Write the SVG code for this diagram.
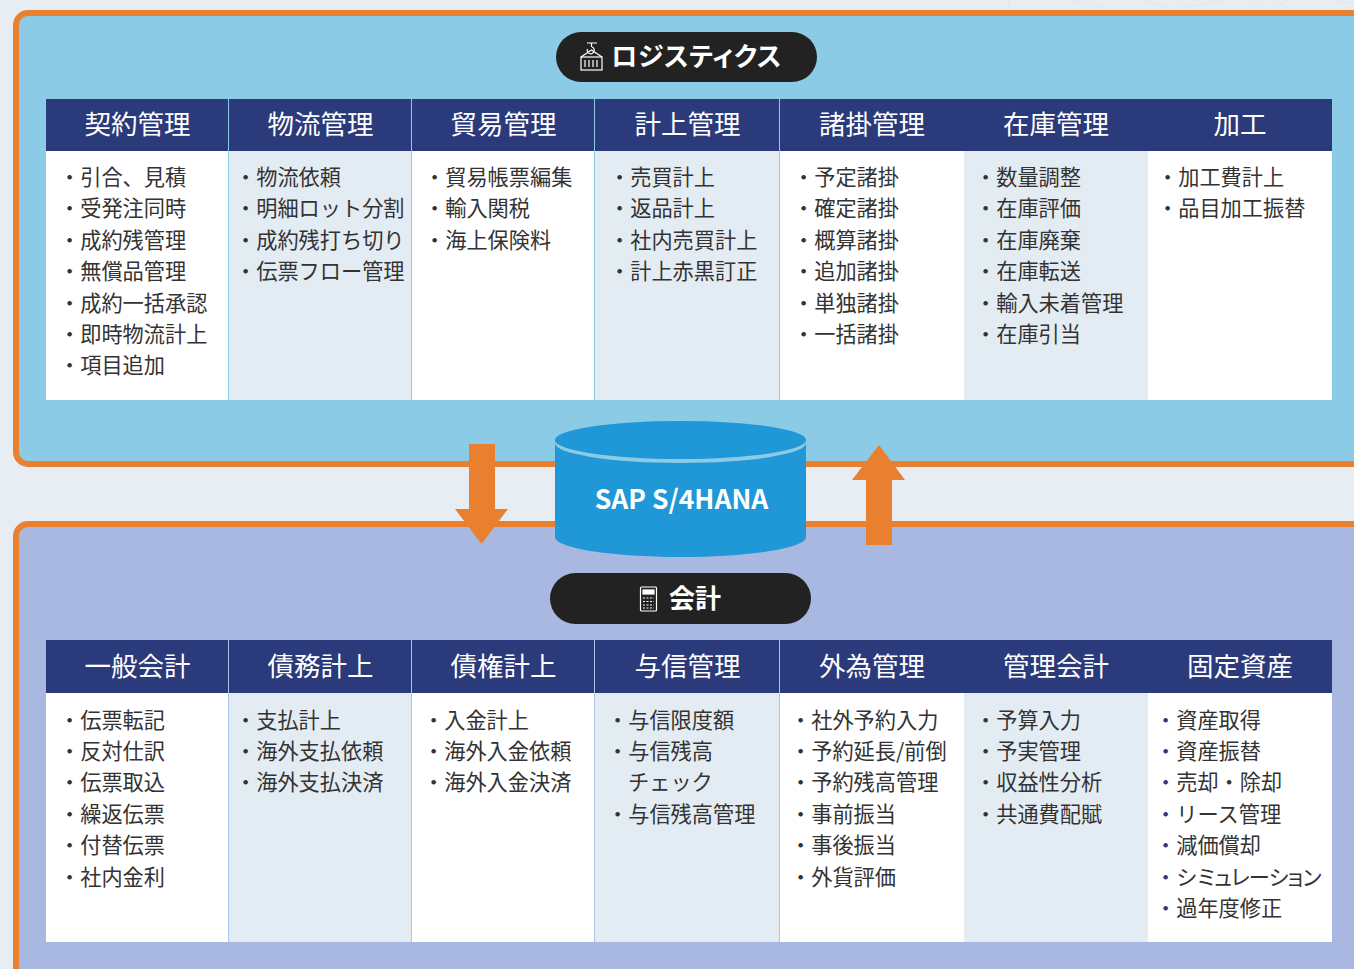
<svg xmlns="http://www.w3.org/2000/svg" width="1354" height="969" viewBox="0 0 1354 969">
<style>
text{font-family:"Noto Sans CJK JP","Noto Sans",sans-serif}
.panel{stroke:#e8802f;stroke-width:6}
.hd{fill:#2b3a7a}
.ht{fill:#fff;font-size:26.500px;text-anchor:middle}
.it{fill:#333;font-size:21.200px}
.b{fill:#2b3a7a}
.tint{fill:#e4ecf3}
.wh{fill:#fff}
.pill{fill:#222}
.tt{fill:#fff;font-size:26px;font-weight:700}
.palt{font-feature-settings:"palt"}
.tight{letter-spacing:-.7px}
.wide{letter-spacing:.6px}
.ic{fill:none;stroke:#fff;stroke-width:1.200}
.arr{fill:#e8802f}
</style>
<rect width="1354" height="969" fill="#e8edf4"/>
<g fill="none" stroke="#dfe6ef" stroke-width="1"><path d="M1009 0V10M1072 0L1112 10M1146 0L1172 10L1222 0M1208 0L1215 10M1252 10L1260 0M1276 0L1290 10M1335 0L1354 4"/></g>
<rect id="panel-logistics" class="panel" x="16" y="13" width="1400" height="451" rx="12" fill="#8ccbe6"/>
<rect id="panel-accounting" class="panel" x="16" y="524" width="1400" height="500" rx="12" fill="#a8b8e0"/>

<g id="connectors">
<path id="arrow-down" class="arr" d="M469 444H495V509H508L481.500 544L455 509H469Z"/>
<path id="arrow-up" class="arr" d="M866 545H892V480H905L879 445L852 480H866Z"/>
</g>

<g id="db">
<path d="M555 440V537C555 548 611 557 680.500 557S806 548 806 537V440Z" fill="#2097d6"/>
<ellipse cx="680.500" cy="443" rx="125.500" ry="20" fill="#8ccbe6"/>
<ellipse cx="680.500" cy="440" rx="125.500" ry="19" fill="#2097d6"/>
<text x="681.500" y="509" fill="#fff" font-size="26.500" font-weight="700" text-anchor="middle">SAP S/4HANA</text>
</g>

<g id="title-logistics">
<rect class="pill" x="556" y="32" width="261" height="50" rx="25"/>
<g class="ic"><rect x="581" y="57" width="21" height="13"/><path d="M581 57L591.500 50L602 57M587 43H597M591.500 43V47M587.500 49A3.500 3.500 0 1 0 592 47M585 60V67M589 60V67M593 60V67M597 60V67"/></g>
<text class="tt palt wide" x="611" y="66">ロジスティクス</text>
</g>
<g id="title-accounting">
<rect class="pill" x="550" y="573" width="261" height="51" rx="25.500"/>
<g class="ic"><rect x="640.500" y="587" width="16" height="24" rx="1"/><rect x="643" y="590" width="11" height="4" fill="#fff"/><path d="M643 598H654M643 601.500H654M643 605H654M643 608H654" stroke-dasharray="2 1.500"/></g>
<text class="tt" x="669" y="608">会計</text>
</g>

<g id="col-u1"><rect class="wh" x="46" y="151" width="183" height="249"/><rect class="hd" x="46" y="99" width="183" height="52"/><text class="ht" x="137.500" y="134">契約管理</text>
<text class="it"><tspan x="59" y="184.500">・引合、見積</tspan><tspan x="59" y="215.500">・受発注同時</tspan><tspan x="59" y="247.500">・成約残管理</tspan><tspan x="59" y="278.500">・無償品管理</tspan><tspan x="59" y="310.500">・成約一括承認</tspan><tspan x="59" y="341.500">・即時物流計上</tspan><tspan x="59" y="372.500">・項目追加</tspan></text></g>
<g id="col-u2"><rect class="tint" x="229" y="151" width="183" height="249"/><rect class="hd" x="229" y="99" width="183" height="52"/><text class="ht" x="320.500" y="134">物流管理</text>
<text class="it"><tspan x="235" y="184.500">・物流依頼</tspan><tspan x="235" y="215.500">・明細ロット分割</tspan><tspan x="235" y="247.500">・成約残打ち切り</tspan><tspan x="235" y="278.500">・伝票フロー管理</tspan></text></g>
<g id="col-u3"><rect class="wh" x="412" y="151" width="183" height="249"/><rect class="hd" x="412" y="99" width="183" height="52"/><text class="ht" x="503.500" y="134">貿易管理</text>
<text class="it"><tspan x="424" y="184.500">・貿易帳票編集</tspan><tspan x="424" y="215.500">・輸入関税</tspan><tspan x="424" y="247.500">・海上保険料</tspan></text></g>
<g id="col-u4"><rect class="tint" x="595" y="151" width="185" height="249"/><rect class="hd" x="595" y="99" width="185" height="52"/><text class="ht" x="687.500" y="134">計上管理</text>
<text class="it"><tspan x="609" y="184.500">・売買計上</tspan><tspan x="609" y="215.500">・返品計上</tspan><tspan x="609" y="247.500">・社内売買計上</tspan><tspan x="609" y="278.500">・計上赤黒訂正</tspan></text></g>
<g id="col-u5"><rect class="wh" x="780" y="151" width="184" height="249"/><rect class="hd" x="780" y="99" width="184" height="52"/><text class="ht" x="872" y="134">諸掛管理</text>
<text class="it"><tspan x="793" y="184.500">・予定諸掛</tspan><tspan x="793" y="215.500">・確定諸掛</tspan><tspan x="793" y="247.500">・概算諸掛</tspan><tspan x="793" y="278.500">・追加諸掛</tspan><tspan x="793" y="310.500">・単独諸掛</tspan><tspan x="793" y="341.500">・一括諸掛</tspan></text></g>
<g id="col-u6"><rect class="tint" x="964" y="151" width="184" height="249"/><rect class="hd" x="964" y="99" width="184" height="52"/><text class="ht" x="1056" y="134">在庫管理</text>
<text class="it"><tspan x="975" y="184.500">・数量調整</tspan><tspan x="975" y="215.500">・在庫評価</tspan><tspan x="975" y="247.500">・在庫廃棄</tspan><tspan x="975" y="278.500">・在庫転送</tspan><tspan x="975" y="310.500">・輸入未着管理</tspan><tspan x="975" y="341.500">・在庫引当</tspan></text></g>
<g id="col-u7"><rect class="wh" x="1148" y="151" width="184" height="249"/><rect class="hd" x="1148" y="99" width="184" height="52"/><text class="ht" x="1240" y="134">加工</text>
<text class="it"><tspan x="1157" y="184.500">・加工費計上</tspan><tspan x="1157" y="215.500">・品目加工振替</tspan></text></g>
<path d="M228.500 99V400M411.500 99V400M594.500 99V400M779.500 99V400" stroke="#8ccbe6" fill="none"/>

<g id="col-l1"><rect class="wh" x="46" y="693" width="183" height="249"/><rect class="hd" x="46" y="640" width="183" height="53"/><text class="ht" x="137.500" y="676">一般会計</text>
<text class="it"><tspan x="59" y="727.500">・伝票転記</tspan><tspan x="59" y="758.500">・反対仕訳</tspan><tspan x="59" y="789.500">・伝票取込</tspan><tspan x="59" y="821.500">・繰返伝票</tspan><tspan x="59" y="852.500">・付替伝票</tspan><tspan x="59" y="884.500">・社内金利</tspan></text></g>
<g id="col-l2"><rect class="tint" x="229" y="693" width="183" height="249"/><rect class="hd" x="229" y="640" width="183" height="53"/><text class="ht" x="320.500" y="676">債務計上</text>
<text class="it"><tspan x="235" y="727.500">・支払計上</tspan><tspan x="235" y="758.500">・海外支払依頼</tspan><tspan x="235" y="789.500">・海外支払決済</tspan></text></g>
<g id="col-l3"><rect class="wh" x="412" y="693" width="183" height="249"/><rect class="hd" x="412" y="640" width="183" height="53"/><text class="ht" x="503.500" y="676">債権計上</text>
<text class="it"><tspan x="423" y="727.500">・入金計上</tspan><tspan x="423" y="758.500">・海外入金依頼</tspan><tspan x="423" y="789.500">・海外入金決済</tspan></text></g>
<g id="col-l4"><rect class="tint" x="595" y="693" width="185" height="249"/><rect class="hd" x="595" y="640" width="185" height="53"/><text class="ht" x="687.500" y="676">与信管理</text>
<text class="it"><tspan x="607" y="727.500">・与信限度額</tspan><tspan x="607" y="758.500">・与信残高</tspan><tspan x="628" y="789.500">チェック</tspan><tspan x="607" y="821.500">・与信残高管理</tspan></text></g>
<g id="col-l5"><rect class="wh" x="780" y="693" width="184" height="249"/><rect class="hd" x="780" y="640" width="184" height="53"/><text class="ht" x="872" y="676">外為管理</text>
<text class="it"><tspan x="790" y="727.500">・社外予約入力</tspan><tspan x="790" y="758.500">・予約延長/前倒</tspan><tspan x="790" y="789.500">・予約残高管理</tspan><tspan x="790" y="821.500">・事前振当</tspan><tspan x="790" y="852.500">・事後振当</tspan><tspan x="790" y="884.500">・外貨評価</tspan></text></g>
<g id="col-l6"><rect class="tint" x="964" y="693" width="184" height="249"/><rect class="hd" x="964" y="640" width="184" height="53"/><text class="ht" x="1056" y="676">管理会計</text>
<text class="it"><tspan x="975" y="727.500">・予算入力</tspan><tspan x="975" y="758.500">・予実管理</tspan><tspan x="975" y="789.500">・収益性分析</tspan><tspan x="975" y="821.500">・共通費配賦</tspan></text></g>
<g id="col-l7"><rect class="wh" x="1148" y="693" width="184" height="249"/><rect class="hd" x="1148" y="640" width="184" height="53"/><text class="ht" x="1240" y="676">固定資産</text>
<text class="it"><tspan x="1155" y="727.500"><tspan class="b">・</tspan>資産取得</tspan><tspan x="1155" y="758.500"><tspan class="b">・</tspan>資産振替</tspan><tspan x="1155" y="789.500"><tspan class="b">・</tspan>売却・除却</tspan><tspan x="1155" y="821.500"><tspan class="b">・</tspan>リース管理</tspan><tspan x="1155" y="852.500"><tspan class="b">・</tspan>減価償却</tspan><tspan x="1155" y="884.500"><tspan class="b">・</tspan>シ<tspan class="palt tight">ミュレーション</tspan></tspan><tspan x="1155" y="915.500"><tspan class="b">・</tspan>過年度修正</tspan></text></g>
<path d="M228.500 640V942M411.500 640V942M594.500 640V942M779.500 640V942" stroke="#a8c4e8" fill="none"/>
</svg>
